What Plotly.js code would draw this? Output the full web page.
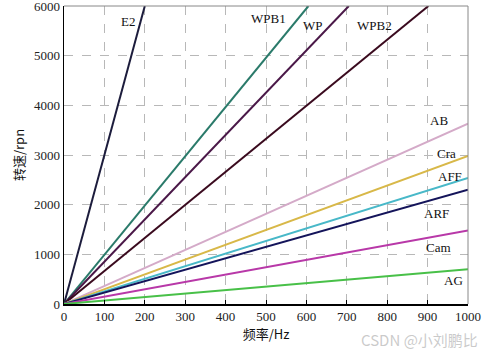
<!DOCTYPE html>
<html><head><meta charset="utf-8">
<script src="https://cdn.plot.ly/plotly-3.0.1.min.js"></script>
<style>html,body{margin:0;padding:0;background:#fff}#c{width:492px;height:352px}</style>
</head><body><div id="c"></div>
<script>
const seriesNames = ["E2","WPB1","WP","WPB2","AB","Cra","AFF","ARF","Cam","AG"];
const freqE2 = [0, 200],   rpmE2 = [0, 6000];
const freqWPB1 = [0, 605], rpmWPB1 = [0, 6000];
const freqWP = [0, 705],   rpmWP = [0, 6000];
const freqWPB2 = [0, 902], rpmWPB2 = [0, 6000];
const freqAB = [0, 1000],  rpmAB = [0, 3630];
const freqCra = [0, 1000], rpmCra = [0, 2980];
const freqAFF = [0, 1000], rpmAFF = [0, 2540];
const freqARF = [0, 1000], rpmARF = [0, 2300];
const freqCam = [0, 1000], rpmCam = [0, 1480];
const freqAG = [0, 1000],  rpmAG = [0, 700];
const labelX = [159, 507, 617, 769, 928, 948, 955, 922, 927, 965];
const labelY = [5680, 5740, 5600, 5600, 3700, 3040, 2560, 1820, 1140, 480];
const xTicks = [0,100,200,300,400,500,600,700,800,900,1000];
const yTicks = [0,1000,2000,3000,4000,5000,6000];

const colors = ["#1c1c3c","#2a7a6a","#4a1848","#3a0a1e","#d4aac8","#d8b848","#48b8c8","#14145a","#b838a8","#48c048"];
const xs = [freqE2,freqWPB1,freqWP,freqWPB2,freqAB,freqCra,freqAFF,freqARF,freqCam,freqAG];
const ys = [rpmE2,rpmWPB1,rpmWP,rpmWPB2,rpmAB,rpmCra,rpmAFF,rpmARF,rpmCam,rpmAG];

const traces = seriesNames.map((n,i)=>({
  x: xs[i], y: ys[i], name: n, mode: "lines", type: "scatter",
  line: {color: colors[i], width: 2}, hoverinfo: "skip"
}));

const serif = "Liberation Serif, Times New Roman, serif";
const annotations = seriesNames.map((n,i)=>({
  x: labelX[i], y: labelY[i], xref: "x", yref: "y", text: n, showarrow: false,
  font: {family: serif, size: 13, color: "#111"}
}));
annotations.push({
  x: 1.03, y: -0.118, xref: "paper", yref: "paper", xanchor: "right", yanchor: "middle",
  text: "CSDN @小刘鹏比", showarrow: false,
  font: {family: "Noto Sans CJK SC", size: 15, color: "rgba(150,150,150,0.5)"}
});

const layout = {
  width: 492, height: 352,
  margin: {l: 64, r: 24, t: 6, b: 48},
  paper_bgcolor: "#fff", plot_bgcolor: "#fff",
  showlegend: false,
  font: {family: serif, size: 13, color: "#111"},
  xaxis: {
    range: [0, 1000], tickvals: xTicks, ticktext: xTicks.map(String),
    showgrid: true, gridcolor: "#b8b8b8", griddash: "dash", gridwidth: 1,
    zeroline: false, showline: true, linecolor: "#000", linewidth: 1.5, mirror: false,
    ticks: "inside", ticklen: 4, tickcolor: "#000",
    tickfont: {family: serif, size: 13, color: "#222"},
    title: {text: "频率/Hz", font: {family: "Noto Sans CJK SC", size: 13, color: "#111"}, standoff: 6}
  },
  yaxis: {
    range: [0, 6000], tickvals: yTicks, ticktext: yTicks.map(String),
    showgrid: true, gridcolor: "#b8b8b8", griddash: "dash", gridwidth: 1,
    zeroline: false, showline: true, linecolor: "#000", linewidth: 1.5,
    ticks: "", ticklabeloverflow: "allow",
    tickfont: {family: serif, size: 13, color: "#222"},
    title: {text: "转速/rpn", font: {family: "Noto Sans CJK SC", size: 13, color: "#111"}, standoff: 6}
  },
  shapes: [
    {type: "line", xref: "paper", yref: "paper", x0: 0, x1: 1, y0: 1, y1: 1, line: {color: "#888", width: 1}},
    {type: "line", xref: "paper", yref: "paper", x0: 1, x1: 1, y0: 0, y1: 1, line: {color: "#888", width: 1}}
  ],
  annotations: annotations
};
Plotly.newPlot("c", traces, layout, {displayModeBar: false, staticPlot: true});
</script></body></html>
